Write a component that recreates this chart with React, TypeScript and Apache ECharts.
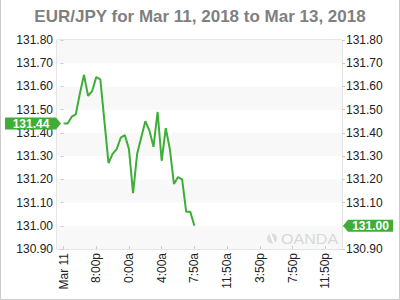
import { useEffect, useRef } from 'react';
import * as echarts from 'echarts';

const chartTitle = 'EUR/JPY for Mar 11, 2018 to Mar 13, 2018';
const xLabels = ['Mar 11', '8:00p', '0:00a', '4:00a', '7:50a', '11:50a', '3:50p', '7:50p', '11:50p'];
const xLabelSlots = [0, 8, 16, 24, 32, 40, 48, 56, 64];
const prices = [
  131.44, 131.44, 131.47, 131.48, 131.57, 131.65, 131.56, 131.58, 131.64, 131.63,
  131.45, 131.27, 131.31, 131.33, 131.38, 131.39, 131.33, 131.14, 131.31, 131.38,
  131.45, 131.41, 131.34, 131.49, 131.28, 131.42, 131.33, 131.18, 131.21, 131.20,
  131.06, 131.06, 131.00,
];
const yMin = 130.9;
const yMax = 131.8;
const yStep = 0.1;
const xMin = -1.6;
const xMax = 68.1;

const GREEN = '#3eae38';
const FONT = "'Liberation Sans', Arial, sans-serif";

export default function App() {
  const ref = useRef<HTMLDivElement>(null);
  useEffect(() => {
    document.body.style.margin = '0';
    const chart = echarts.init(ref.current!, null, { renderer: 'svg', width: 400, height: 300 });
    const yAxisBase = {
      type: 'value',
      min: yMin,
      max: yMax,
      interval: yStep,
      axisLine: { show: false },
      axisTick: { show: true, length: 3, lineStyle: { color: '#ccc' } },
      axisLabel: {
        margin: 4,
        fontSize: 12,
        color: '#222',
        fontFamily: FONT,
        formatter: (v: number) => v.toFixed(2),
      },
      splitLine: { show: false },
    };
    chart.setOption({
      animation: false,
      backgroundColor: '#fff',
      title: {
        text: chartTitle,
        left: 'center',
        top: 3,
        textStyle: { fontSize: 17, fontWeight: 'bold', color: '#7f7f7f', fontFamily: FONT },
      },
      grid: {
        left: 57,
        right: 58,
        top: 40,
        bottom: 51,
        show: true,
        borderColor: '#ccc',
        borderWidth: 1,
        backgroundColor: 'transparent',
        containLabel: false,
        outerBoundsMode: 'none',
      },
      xAxis: {
        type: 'value',
        min: xMin,
        max: xMax,
        axisLine: { show: false },
        splitLine: { show: false },
        axisTick: {
          show: true,
          inside: true,
          length: 3,
          customValues: xLabelSlots,
          lineStyle: { color: '#ccc' },
        },
        axisLabel: {
          rotate: 90,
          margin: 4,
          fontSize: 12,
          color: '#222',
          fontFamily: FONT,
          customValues: xLabelSlots,
          formatter: (v: number) => {
            const i = xLabelSlots.indexOf(Math.round(v));
            return i >= 0 ? xLabels[i] : '';
          },
        },
      },
      yAxis: [
        {
          ...yAxisBase,
          position: 'left',
          splitArea: { show: true, areaStyle: { color: ['#f8f8f8', '#ffffff'] } },
        },
        { ...yAxisBase, position: 'right', splitArea: { show: false } },
      ],
      series: [
        {
          type: 'line',
          data: prices.map((p, i) => [i, p]),
          symbol: 'none',
          lineStyle: { color: GREEN, width: 2 },
          z: 5,
        },
      ],
    });

    const yOpen = chart.convertToPixel({ yAxisIndex: 0 }, prices[0]) as number;
    const yLast = chart.convertToPixel({ yAxisIndex: 0 }, prices[prices.length - 1]) as number;
    const h = 6;
    chart.setOption({
      graphic: [
        {
          type: 'polyline',
          shape: { points: [[0.5, 0], [0.5, 299.5], [399.5, 299.5], [399.5, 0]] },
          style: { stroke: '#ccc', lineWidth: 1, fill: null },
          silent: true,
        },
        {
          type: 'circle',
          shape: { cx: 272, cy: 238.5, r: 5 },
          style: { fill: '#dcdcdc' },
          z: 1,
        },
        {
          type: 'polygon',
          shape: { points: [[269.5, 234], [271.5, 234], [275, 243], [273, 243]] },
          style: { fill: '#fff' },
          z: 2,
        },
        {
          type: 'text',
          x: 281,
          y: 238.5,
          scaleX: 1.15,
          style: {
            text: 'OANDA',
            fontSize: 14,
            fontFamily: FONT,
            fill: '#d8d8d8',
            verticalAlign: 'middle',
            align: 'left',
          },
          z: 1,
        },
        {
          type: 'polygon',
          shape: {
            points: [[5, yOpen - h], [56, yOpen - h], [61, yOpen], [56, yOpen + h], [5, yOpen + h]],
          },
          style: { fill: GREEN },
          z: 10,
        },
        {
          type: 'text',
          x: 31,
          y: yOpen,
          style: {
            text: prices[0].toFixed(2),
            fontSize: 12,
            fontWeight: 'bold',
            fontFamily: FONT,
            fill: '#fff',
            align: 'center',
            verticalAlign: 'middle',
          },
          z: 11,
        },
        {
          type: 'polygon',
          shape: {
            points: [[343, yLast], [348, yLast - h], [393, yLast - h], [393, yLast + h], [348, yLast + h]],
          },
          style: { fill: GREEN },
          z: 10,
        },
        {
          type: 'text',
          x: 370.5,
          y: yLast,
          style: {
            text: prices[prices.length - 1].toFixed(2),
            fontSize: 12,
            fontWeight: 'bold',
            fontFamily: FONT,
            fill: '#fff',
            align: 'center',
            verticalAlign: 'middle',
          },
          z: 11,
        },
      ],
    });
    return () => chart.dispose();
  }, []);
  return <div ref={ref} style={{ position: 'fixed', left: 0, top: 0, width: 400, height: 300 }} />;
}
